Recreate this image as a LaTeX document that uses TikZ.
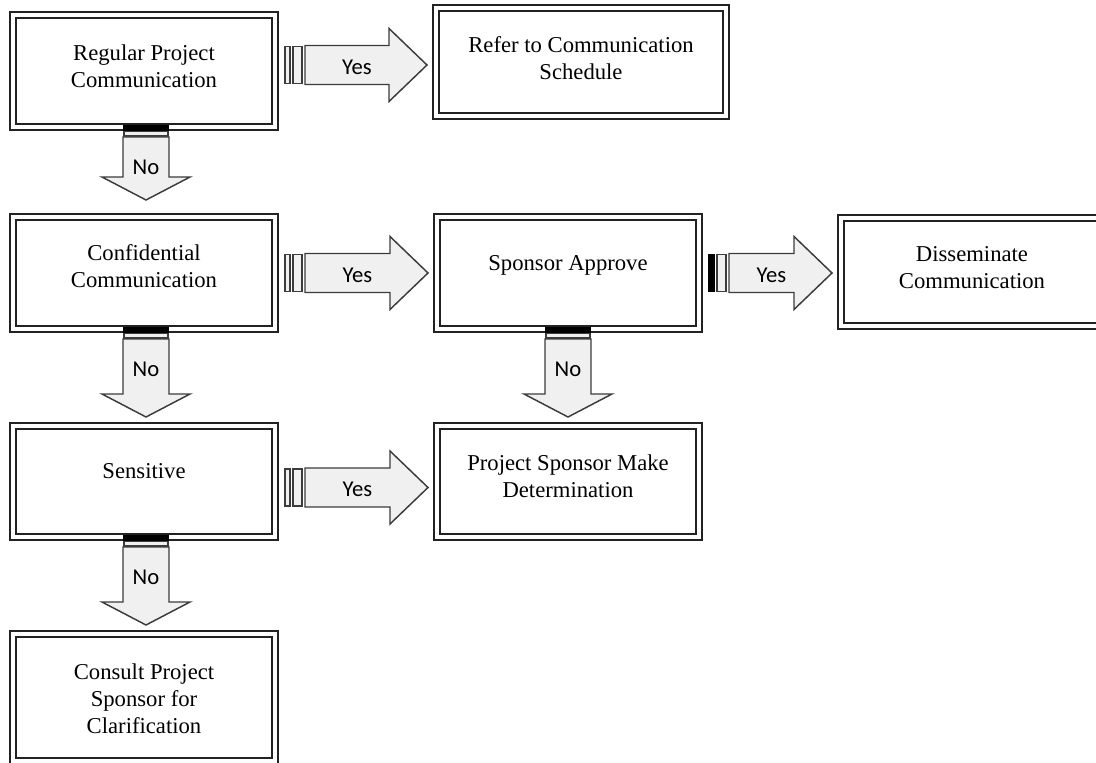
\documentclass[tikz,border=0pt]{standalone}
\usepackage{fontspec}
\setmainfont{Liberation Serif}
\newfontfamily\labelfont{Carlito}
\usetikzlibrary{calc}

\definecolor{boxline}{HTML}{222222}
\definecolor{arrowline}{HTML}{3C3C3C}
\definecolor{arrowfill}{HTML}{F0F0F0}

\tikzset{
  flowbox/.style={rectangle, draw=boxline, double=white, double distance=3.375pt,
    line width=1.1pt, inner sep=0pt, outer sep=0pt,
    minimum width=196.5pt, minimum height=84pt},
  boxtext/.style={align=center, font=\fontsize{17}{20.25}\selectfont, inner sep=0pt},
  blockarrow/.style={draw=arrowline, fill=arrowfill, line width=1.1pt, line join=miter},
  stripe/.style={draw=arrowline, fill=arrowfill, line width=1.1pt},
  darkstripe/.style={draw=black, fill=black, line width=1.1pt},
  arrowtext/.style={font=\labelfont\fontsize{17}{20}\selectfont, text=black, inner sep=0pt},
}

% Striped block arrow pointing right: [first stripe]{prefix}{from}{to}{vertical offset}
\newcommand\yesarrow[5][stripe]{%
  \coordinate (#2s) at ($(#3.east)+(9,#5)$);
  \coordinate (#2g) at ($(#4.west)+(-9,0)$);
  \coordinate (#2t) at (#2s -| #2g);
  \coordinate (#2h) at ($(#2t)+(-38,0)$);
  \draw[#1] ($(#2s)+(1,-18.5)$) rectangle ($(#2s)+(6,18.5)$);
  \draw[stripe] ($(#2s)+(9,-18.5)$) rectangle ($(#2s)+(18,18.5)$);
  \draw[blockarrow] ($(#2s)+(21,-19.5)$) -- ($(#2h)+(0,-19.5)$) -- ($(#2h)+(0,-36.5)$)
    -- (#2t) -- ($(#2h)+(0,36.5)$) -- ($(#2h)+(0,19.5)$) -- ($(#2s)+(21,19.5)$) -- cycle;
  \node[arrowtext] (#2l) at ($(#2s)!0.5!(#2h)+(20.5,2)$) {Yes};
}

% Striped block arrow pointing down: {prefix}{from}{to}{horizontal offset}{gap above target}
\newcommand\noarrow[5]{%
  \coordinate (#1s) at ($(#2.south)+(#4,0)$);
  \coordinate (#1g) at ($(#3.north)+(0,-#5)$);
  \coordinate (#1t) at (#1g -| #1s);
  \coordinate (#1h) at ($(#1t)+(0,-23)$);
  \draw[darkstripe] ($(#1s)+(-22,-1)$) rectangle ($(#1s)+(22,3.5)$);
  \draw[stripe] ($(#1s)+(-22,4.5)$) rectangle ($(#1s)+(22,9)$);
  \draw[blockarrow] ($(#1s)+(-23,10)$) -- ($(#1h)+(-23,0)$) -- ($(#1h)+(-44,0)$)
    -- (#1t) -- ($(#1h)+(44,0)$) -- ($(#1h)+(23,0)$) -- ($(#1s)+(23,10)$) -- cycle;
  \node[arrowtext] (#1l) at ($(#1s)+(0,40)$) {No};
}

\begin{document}
\begin{tikzpicture}[x=0.75pt, y=-0.75pt]
  \useasboundingbox (0,0) rectangle (1096,763);
  \clip (0,0) rectangle (1096,763);
  \fill[white] (0,0) rectangle (1096,763);

  % boxes
  \node[flowbox] (b1) at (144,71) {};
  \node[flowbox, minimum width=217.5pt, minimum height=81pt] (b2) at (581,62) {};
  \node[flowbox] (b3) at (144,273) {};
  \node[flowbox] (b4) at (568,273) {};
  \node[flowbox, minimum height=81pt] (b5) at (972,272) {};
  \node[flowbox, minimum height=83.25pt] (b6) at (144,481.5) {};
  \node[flowbox, minimum height=83.25pt] (b7) at (568,481.5) {};
  \node[flowbox, minimum height=95.25pt] (b8) at (144,697.5) {};

  % box texts
  \node[boxtext] (t1) at ($(b1.center)+(0,-5)$) {Regular Project\\Communication};
  \node[boxtext] (t2) at ($(b2.center)+(0,-3.5)$) {Refer to Communication\\Schedule};
  \node[boxtext] (t3) at ($(b3.center)+(0,-7)$) {Confidential\\Communication};
  \node[boxtext] (t4) at ($(b4.center)+(0,-7.5)$) {Sponsor Approve};
  \node[boxtext] (t5) at ($(b5.center)+(0,-4.5)$) {Disseminate\\Communication};
  \node[boxtext] (t6) at ($(b6.center)+(0,-10)$) {Sensitive};
  \node[boxtext] (t7) at ($(b7.center)+(0,-5)$) {Project Sponsor Make\\Determination};
  \node[boxtext] (t8) at ($(b8.center)+(0,1)$) {Consult Project\\Sponsor for\\Clarification};

  % yes arrows
  \yesarrow{ya}{b1}{b2}{-6}
  \yesarrow{yb}{b3}{b4}{0}
  \yesarrow[darkstripe]{yc}{b4}{b5}{0}
  \yesarrow{yd}{b6}{b7}{6}

  % no arrows
  \noarrow{na}{b1}{b3}{2}{17}
  \noarrow{nb}{b3}{b6}{2}{9}
  \noarrow{nc}{b6}{b8}{2}{9}
  \noarrow{nd}{b4}{b7}{0}{9}
\end{tikzpicture}
\end{document}
